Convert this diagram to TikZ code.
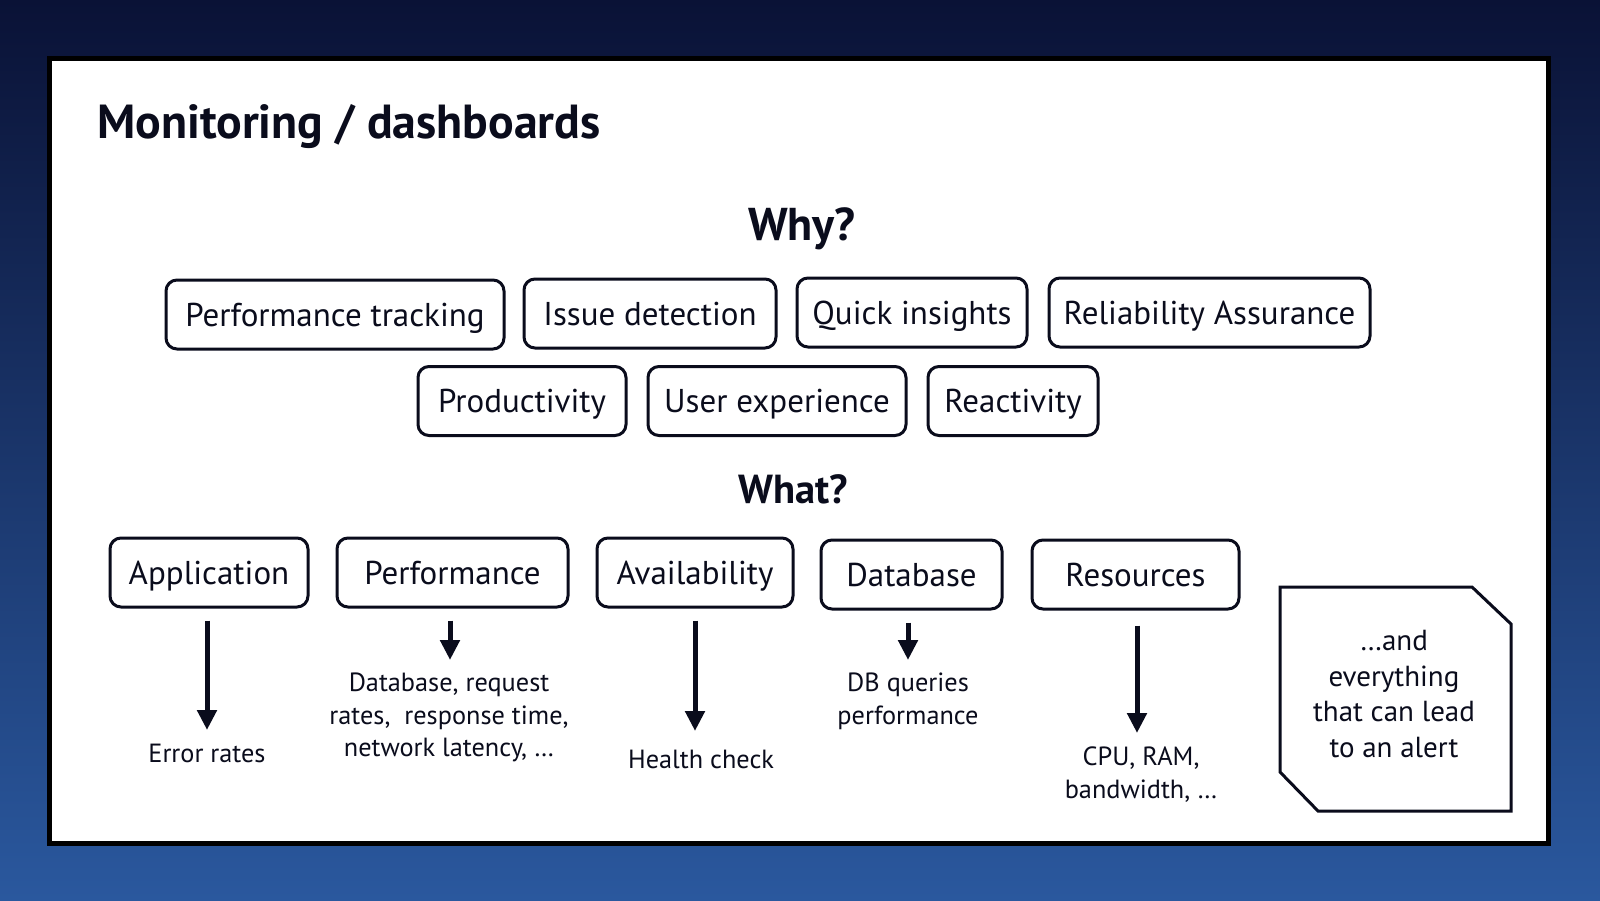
\documentclass[tikz,border=0pt]{standalone}
\usepackage{fontspec}
\setmainfont{PT Sans}
\usetikzlibrary{arrows.meta}
\definecolor{bgtop}{RGB}{10,18,54}
\definecolor{bgbot}{RGB}{42,88,158}
\definecolor{ink}{RGB}{10,12,28}
\tikzset{
  pill/.style={draw=ink, line width=3pt, rounded corners=11pt, fill=white,
    minimum height=69pt, inner sep=0pt, text height=30pt, text depth=7pt,
    font=\fontsize{33}{40}\selectfont, text=ink},
  lbl/.style={inner sep=0pt, align=center, text=ink, font=\fontsize{26.3}{32.5}\selectfont},
  arr/.style={draw=ink, line width=5pt, -{Triangle[width=19pt,length=20pt]}, shorten <=12pt},
  heading/.style={inner sep=0pt, text=ink, font=\fontsize{46}{50}\bfseries\selectfont, anchor=base}
}
\begin{document}
\begin{tikzpicture}[x=1pt,y=-1pt]
\useasboundingbox (0,0) rectangle (1600,900);
\shade[top color=bgtop, bottom color=bgbot] (0,0) rectangle (1600,900);
\draw[line width=5pt, draw=black, fill=white] (49,58) rectangle (1548,843);

\node[heading, anchor=base west, font=\fontsize{47.8}{52}\bfseries\selectfont] (title) at (97,138) {Monitoring / dashboards};
\node[heading] (why) at (802,240) {Why?};
\node[heading, font=\fontsize{40.5}{46}\bfseries\selectfont] (what) at (793,503) {What?};

% Why row 1
\node[pill, minimum width=338pt] (b1) at (335,314.5) {Performance tracking};
\node[pill, minimum width=252pt] (b2) at (650,313.5) {Issue detection};
\node[pill, minimum width=230pt] (b3) at (912,312.5) {Quick insights};
\node[pill, minimum width=321pt] (b4) at (1209.5,312.5) {Reliability Assurance};
% Why row 2
\node[pill, minimum width=208pt] (b5) at (522,401) {Productivity};
\node[pill, minimum width=258pt] (b6) at (777,401) {User experience};
\node[pill, minimum width=170pt] (b7) at (1013,401) {Reactivity};

% What row
\node[pill, minimum width=198pt] (app) at (209,572.5) {Application};
\node[pill, minimum width=231pt] (perf) at (452.5,572.5) {Performance};
\node[pill, minimum width=196pt] (avail) at (695,572.5) {Availability};
\node[pill, minimum width=181pt] (db) at (911.5,574.5) {Database};
\node[pill, minimum width=207pt] (res) at (1135.5,574.5) {Resources};

% labels
\node[lbl] (err) at (207,753) {Error rates};
\node[lbl] (perfl) at (449,717.5) {Database, request\\rates,\ \ response time,\\network latency, \dots};
\node[lbl] (health) at (701,759) {Health check};
\node[lbl] (dbl) at (908,701.5) {DB queries\\performance};
\node[lbl] (cpu) at (1141,774.5) {CPU, RAM,\\bandwidth, \dots};

% arrow tips
\coordinate (t1) at (207,730);
\coordinate (t2) at (450,660);
\coordinate (t3) at (695,731);
\coordinate (t4) at (908,660);
\coordinate (t5) at (1137,733);
\draw[arr] (app.south -| t1) -- (t1);
\draw[arr] (perf.south -| t2) -- (t2);
\draw[arr] (avail.south -| t3) -- (t3);
\draw[arr] (db.south -| t4) -- (t4);
\draw[arr, shorten <=15pt] (res.south -| t5) -- (t5);

% everything else shape
\draw[draw=ink, line width=3pt, line join=miter] (1280,587) -- (1472,587) -- (1511,624) -- (1511,811) -- (1318,811) -- (1280,772) -- cycle;
\node[lbl, font=\fontsize{29}{35.7}\selectfont] (alert) at (1394,694) {\dots and\\everything\\that can lead\\to an alert};
\end{tikzpicture}
\end{document}
